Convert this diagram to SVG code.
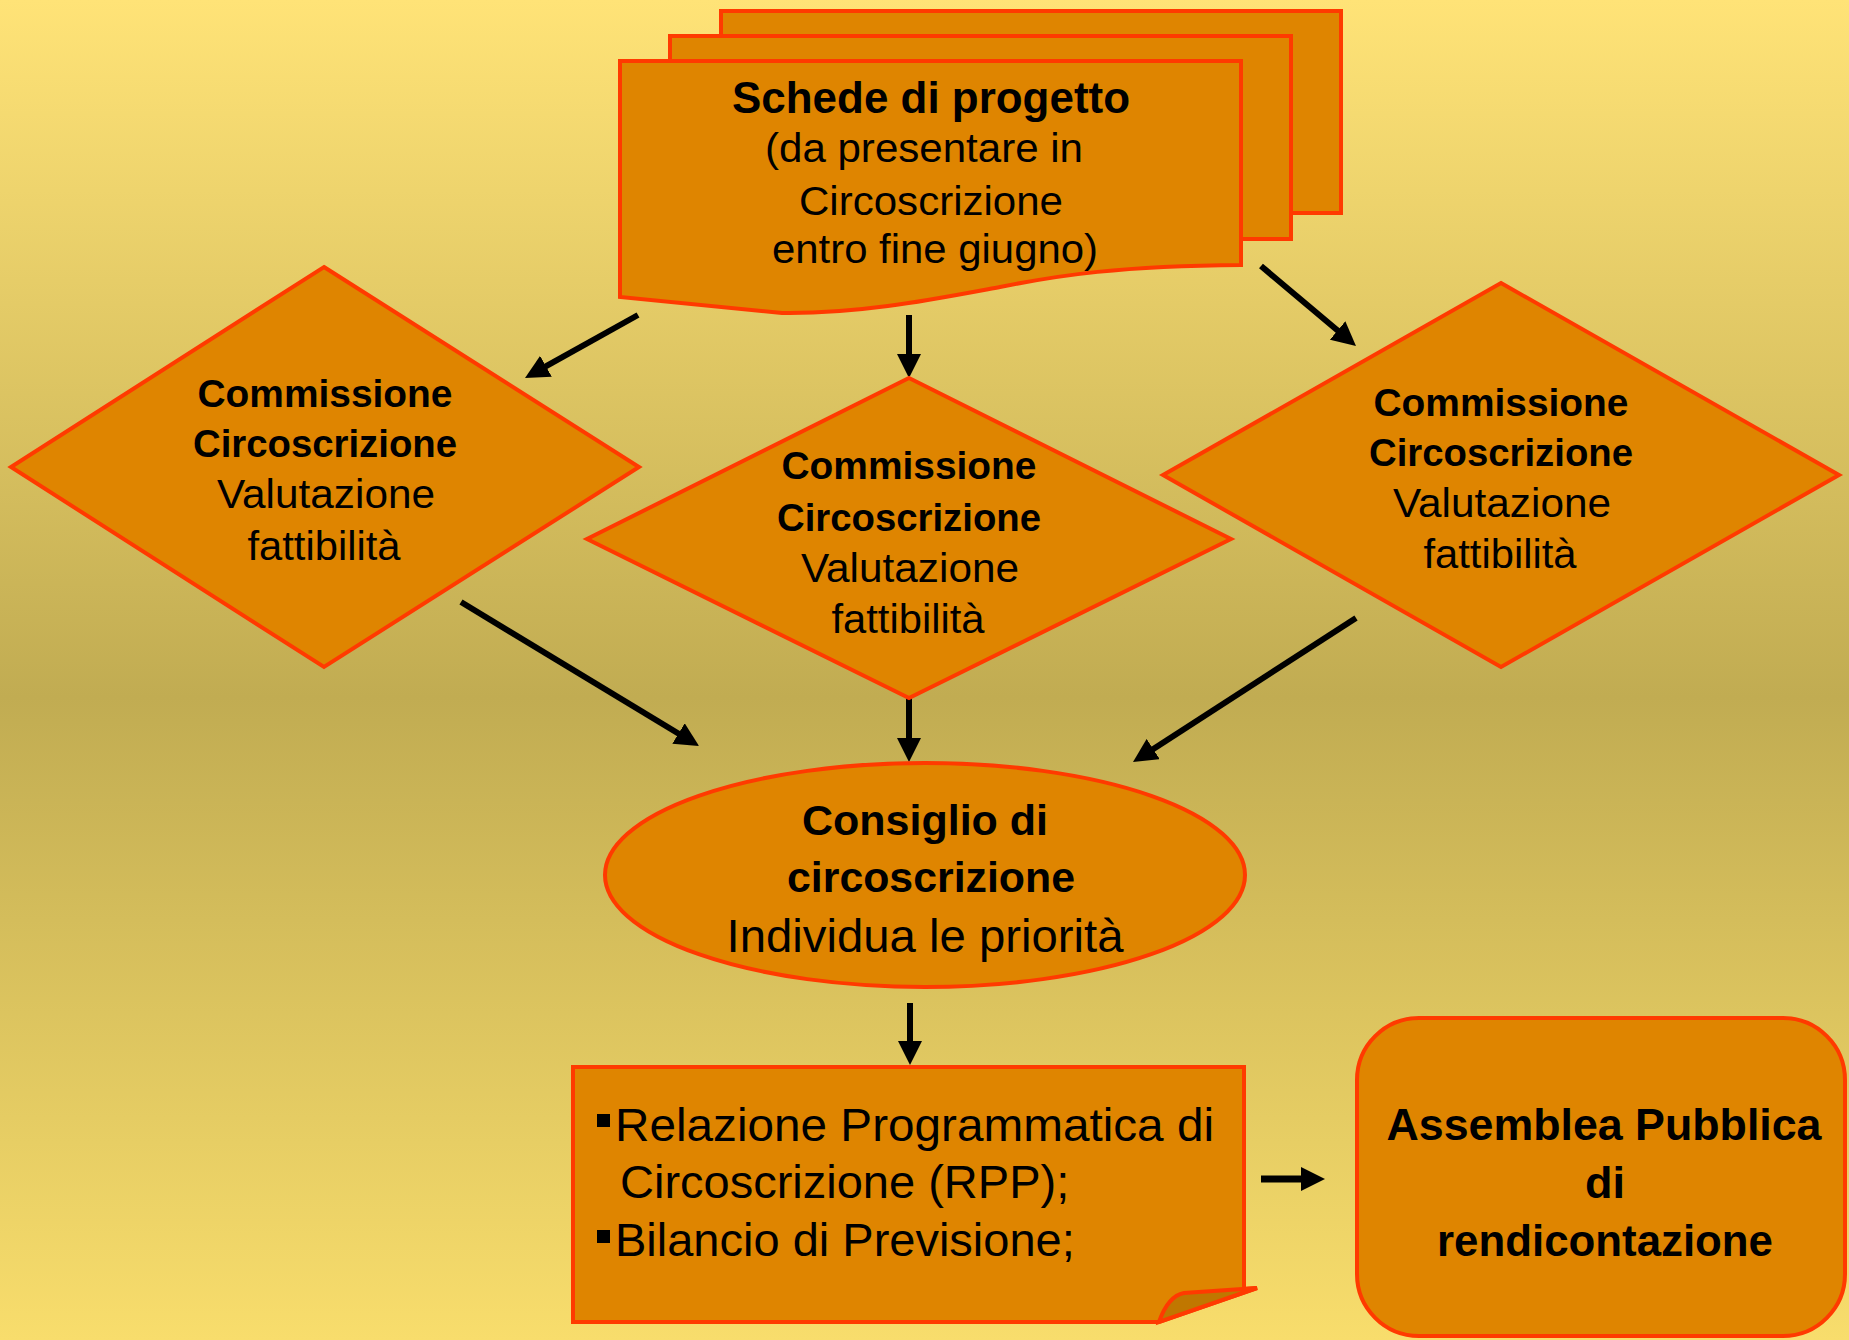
<svg xmlns="http://www.w3.org/2000/svg" width="1849" height="1340" viewBox="0 0 1849 1340">
<defs>
<linearGradient id="bg" x1="0" y1="0" x2="0" y2="1">
<stop offset="0" stop-color="#FFE377"/>
<stop offset="0.52" stop-color="#C1AC52"/>
<stop offset="1" stop-color="#F8DD6C"/>
</linearGradient>
<marker id="ah" viewBox="0 0 24 24" markerWidth="24" markerHeight="24" refX="9" refY="12" orient="auto" markerUnits="userSpaceOnUse">
<path d="M0,0 L24,12 L0,24 Z" fill="#000"/>
</marker>
<style>
.shape{fill:#DF8500;stroke:#FF3A00;stroke-width:4;stroke-linejoin:miter}
.t{font-family:"Liberation Sans",Arial,Helvetica,sans-serif;fill:#000;text-anchor:middle}
.b{font-weight:bold;font-size:39px}
.r{font-size:41px}
.conn{stroke:#000;stroke-width:6;fill:none;marker-end:url(#ah)}
</style>
</defs>
<rect x="0" y="0" width="1849" height="1340" fill="url(#bg)"/>

<g id="connectors">
<line class="conn" x1="638" y1="315" x2="538.1" y2="370.7"/>
<line class="conn" x1="909" y1="315" x2="909" y2="363"/>
<line class="conn" x1="1261" y1="266" x2="1344.5" y2="336.3"/>
<line class="conn" x1="461" y1="602" x2="686.2" y2="738.2"/>
<line class="conn" x1="909" y1="698" x2="909" y2="747"/>
<line class="conn" x1="1356" y1="618" x2="1145.6" y2="753.9"/>
<line class="conn" x1="910" y1="1003" x2="910" y2="1050"/>
<line class="conn" x1="1261" y1="1179" x2="1310" y2="1179" style="stroke-width:7"/>
</g>

<g id="schede">
<rect class="shape" x="721" y="11" width="620" height="202"/>
<rect class="shape" x="670" y="36" width="621" height="203"/>
<path class="shape" d="M620,61 H1241 V265 C1120,266 1060,275 1000,287 C930,300 860,314 782,313 L620,297 Z"/>
<text class="t" x="931" y="113" style="font-weight:bold;font-size:45px" textLength="398" lengthAdjust="spacingAndGlyphs">Schede di progetto</text>
<text class="t r" x="924" y="162" textLength="318" lengthAdjust="spacingAndGlyphs">(da presentare in</text>
<text class="t r" x="931" y="215" textLength="264" lengthAdjust="spacingAndGlyphs">Circoscrizione</text>
<text class="t r" x="935" y="263" textLength="326" lengthAdjust="spacingAndGlyphs">entro fine giugno)</text>
</g>

<g id="commissione-sx">
<polygon class="shape" points="324,267 639,467 324,667 11,467"/>
<text class="t b" x="325" y="407" textLength="255" lengthAdjust="spacingAndGlyphs">Commissione</text>
<text class="t b" x="325" y="457" textLength="264" lengthAdjust="spacingAndGlyphs">Circoscrizione</text>
<text class="t r" x="326" y="508" textLength="218" lengthAdjust="spacingAndGlyphs">Valutazione</text>
<text class="t r" x="324" y="560" textLength="153" lengthAdjust="spacingAndGlyphs">fattibilità</text>
</g>

<g id="commissione-centro">
<polygon class="shape" points="909,378 1231,539 909,698 587,539"/>
<text class="t b" x="909" y="479" textLength="255" lengthAdjust="spacingAndGlyphs">Commissione</text>
<text class="t b" x="909" y="531" textLength="264" lengthAdjust="spacingAndGlyphs">Circoscrizione</text>
<text class="t r" x="910" y="582" textLength="218" lengthAdjust="spacingAndGlyphs">Valutazione</text>
<text class="t r" x="908" y="633" textLength="153" lengthAdjust="spacingAndGlyphs">fattibilità</text>
</g>

<g id="commissione-dx">
<polygon class="shape" points="1501,283 1839,475 1501,667 1163,475"/>
<text class="t b" x="1501" y="416" textLength="255" lengthAdjust="spacingAndGlyphs">Commissione</text>
<text class="t b" x="1501" y="466" textLength="264" lengthAdjust="spacingAndGlyphs">Circoscrizione</text>
<text class="t r" x="1502" y="517" textLength="218" lengthAdjust="spacingAndGlyphs">Valutazione</text>
<text class="t r" x="1500" y="568" textLength="153" lengthAdjust="spacingAndGlyphs">fattibilità</text>
</g>

<g id="consiglio">
<ellipse class="shape" cx="925" cy="875" rx="320" ry="112"/>
<text class="t" x="925" y="835" style="font-weight:bold;font-size:43px" textLength="246" lengthAdjust="spacingAndGlyphs">Consiglio di</text>
<text class="t" x="931" y="892" style="font-weight:bold;font-size:43px" textLength="288" lengthAdjust="spacingAndGlyphs">circoscrizione</text>
<text class="t" x="925" y="952" style="font-size:46px" textLength="397" lengthAdjust="spacingAndGlyphs">Individua le priorità</text>
</g>

<g id="relazione">
<path class="shape" d="M573,1067 H1244 V1289 L1257,1288 L1159,1322 H573 Z"/>
<path d="M1159,1322 Q1168,1296 1184,1293 L1257,1288 Z" fill="#C07700" stroke="#FF3A00" stroke-width="4" stroke-linejoin="miter"/>
<rect x="597" y="1114" width="13" height="13" fill="#000"/>
<rect x="597" y="1230" width="13" height="13" fill="#000"/>
<text class="t" x="615" y="1141" style="font-size:47px;text-anchor:start" textLength="599" lengthAdjust="spacingAndGlyphs">Relazione Programmatica di</text>
<text class="t" x="620" y="1198" style="font-size:47px;text-anchor:start">Circoscrizione (RPP);</text>
<text class="t" x="615" y="1256" style="font-size:47px;text-anchor:start">Bilancio di Previsione;</text>
</g>

<g id="assemblea">
<rect class="shape" x="1357" y="1018" width="488" height="318" rx="62" ry="62"/>
<text class="t" x="1604" y="1140" style="font-weight:bold;font-size:45px" textLength="435" lengthAdjust="spacingAndGlyphs">Assemblea Pubblica</text>
<text class="t" x="1605" y="1198" style="font-weight:bold;font-size:45px">di</text>
<text class="t" x="1605" y="1256" style="font-weight:bold;font-size:45px" textLength="336" lengthAdjust="spacingAndGlyphs">rendicontazione</text>
</g>
</svg>
